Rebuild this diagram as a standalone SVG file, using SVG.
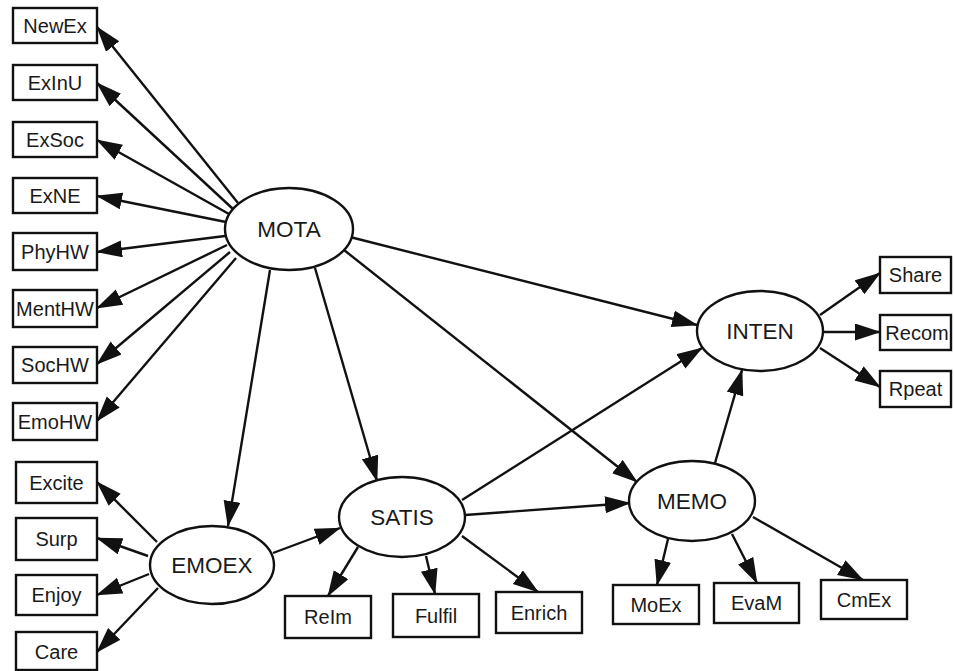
<svg xmlns="http://www.w3.org/2000/svg" width="954" height="671" viewBox="0 0 954 671">
  <style>
    .box { fill: #ffffff; stroke: #111111; stroke-width: 2.4; }
    .lat { fill: #ffffff; stroke: #111111; stroke-width: 2.4; }
    .lbl { font-family: "Liberation Sans", Arial, sans-serif; font-size: 20px; fill: #1a1a1a; text-anchor: middle; dominant-baseline: central; }
    .big { font-size: 22.5px; }
    .edge { stroke: #111111; stroke-width: 2.4; fill: none; marker-end: url(#arrow); }
  </style>
  <defs>
    <marker id="arrow" markerUnits="userSpaceOnUse" markerWidth="28" markerHeight="18" refX="25" refY="8.5" orient="auto">
      <path d="M0,0 L26,8.5 L0,17 Z" fill="#111111"/>
    </marker>
  </defs>
  <rect width="954" height="671" fill="#ffffff"/>

  <!-- connectors -->
  <g id="edges">
    <!-- MOTA indicators -->
    <line class="edge" x1="238" y1="203" x2="97" y2="27"/>
    <line class="edge" x1="233" y1="209" x2="97" y2="83"/>
    <line class="edge" x1="229" y1="214" x2="97" y2="140"/>
    <line class="edge" x1="226" y1="222" x2="97" y2="196"/>
    <line class="edge" x1="225" y1="236" x2="97" y2="252"/>
    <line class="edge" x1="227" y1="245" x2="97" y2="308"/>
    <line class="edge" x1="230" y1="252" x2="97" y2="364"/>
    <line class="edge" x1="236" y1="258" x2="97" y2="421"/>
    <!-- structural paths -->
    <line class="edge" x1="270" y1="270" x2="228" y2="526"/>
    <line class="edge" x1="315" y1="268" x2="377" y2="481"/>
    <line class="edge" x1="344" y1="250" x2="637" y2="482"/>
    <line class="edge" x1="350" y1="237" x2="697" y2="325"/>
    <line class="edge" x1="273" y1="553" x2="340" y2="528"/>
    <line class="edge" x1="462" y1="500" x2="702" y2="348"/>
    <line class="edge" x1="465" y1="515" x2="630" y2="503"/>
    <line class="edge" x1="715" y1="463" x2="742" y2="370"/>
    <!-- EMOEX indicators -->
    <line class="edge" x1="157" y1="542" x2="97" y2="482"/>
    <line class="edge" x1="148" y1="556" x2="97" y2="538"/>
    <line class="edge" x1="149" y1="574" x2="97" y2="595"/>
    <line class="edge" x1="158" y1="588" x2="97" y2="652"/>
    <!-- SATIS indicators -->
    <line class="edge" x1="358" y1="547" x2="328" y2="596"/>
    <line class="edge" x1="426" y1="556" x2="435" y2="594"/>
    <line class="edge" x1="462" y1="536" x2="538" y2="592"/>
    <!-- MEMO indicators -->
    <line class="edge" x1="668" y1="539" x2="657" y2="585"/>
    <line class="edge" x1="732" y1="534" x2="757" y2="583"/>
    <line class="edge" x1="753" y1="517" x2="863" y2="580"/>
    <!-- INTEN indicators -->
    <line class="edge" x1="820" y1="315" x2="880" y2="273"/>
    <line class="edge" x1="824" y1="332" x2="880" y2="332"/>
    <line class="edge" x1="820" y1="348" x2="880" y2="387"/>
  </g>

  <!-- latent variables -->
  <g id="MOTA"><ellipse class="lat" cx="289" cy="229" rx="64" ry="41"/><text class="lbl big" x="289" y="229">MOTA</text></g>
  <g id="EMOEX"><ellipse class="lat" cx="212" cy="565" rx="62" ry="39"/><text class="lbl big" x="212" y="565">EMOEX</text></g>
  <g id="SATIS"><ellipse class="lat" cx="402" cy="517" rx="63" ry="40"/><text class="lbl big" x="402" y="517">SATIS</text></g>
  <g id="MEMO"><ellipse class="lat" cx="692" cy="501" rx="63" ry="40"/><text class="lbl big" x="692" y="501">MEMO</text></g>
  <g id="INTEN"><ellipse class="lat" cx="760" cy="331" rx="63" ry="40"/><text class="lbl big" x="760" y="331">INTEN</text></g>

  <!-- observed indicators: MOTA -->
  <g id="NewEx"><rect class="box" x="13" y="8" width="84" height="35"/><text class="lbl" x="55" y="25.5">NewEx</text></g>
  <g id="ExInU"><rect class="box" x="13" y="65" width="84" height="35"/><text class="lbl" x="55" y="82.5">ExInU</text></g>
  <g id="ExSoc"><rect class="box" x="13" y="122" width="84" height="35"/><text class="lbl" x="55" y="139.5">ExSoc</text></g>
  <g id="ExNE"><rect class="box" x="13" y="178" width="84" height="35"/><text class="lbl" x="55" y="195.5">ExNE</text></g>
  <g id="PhyHW"><rect class="box" x="13" y="233" width="84" height="37"/><text class="lbl" x="55" y="251.5">PhyHW</text></g>
  <g id="MentHW"><rect class="box" x="13" y="290" width="84" height="37"/><text class="lbl" x="55" y="308.5">MentHW</text></g>
  <g id="SocHW"><rect class="box" x="13" y="347" width="84" height="36"/><text class="lbl" x="55" y="365">SocHW</text></g>
  <g id="EmoHW"><rect class="box" x="13" y="403" width="84" height="37"/><text class="lbl" x="55" y="421.5">EmoHW</text></g>

  <!-- observed indicators: EMOEX -->
  <g id="Excite"><rect class="box" x="16" y="462" width="81" height="41"/><text class="lbl" x="56.5" y="482.5">Excite</text></g>
  <g id="Surp"><rect class="box" x="16" y="518" width="81" height="42"/><text class="lbl" x="56.5" y="539">Surp</text></g>
  <g id="Enjoy"><rect class="box" x="16" y="575" width="81" height="40"/><text class="lbl" x="56.5" y="595">Enjoy</text></g>
  <g id="Care"><rect class="box" x="16" y="632" width="81" height="38"/><text class="lbl" x="56.5" y="652">Care</text></g>

  <!-- observed indicators: SATIS -->
  <g id="ReIm"><rect class="box" x="285" y="596" width="86" height="42"/><text class="lbl" x="328" y="617">ReIm</text></g>
  <g id="Fulfil"><rect class="box" x="393" y="594" width="86" height="43"/><text class="lbl" x="436" y="615.5">Fulfil</text></g>
  <g id="Enrich"><rect class="box" x="496" y="592" width="86" height="41"/><text class="lbl" x="539" y="612.5">Enrich</text></g>

  <!-- observed indicators: MEMO -->
  <g id="MoEx"><rect class="box" x="613" y="585" width="86" height="39"/><text class="lbl" x="656" y="604.5">MoEx</text></g>
  <g id="EvaM"><rect class="box" x="714" y="583" width="85" height="40"/><text class="lbl" x="756.5" y="603">EvaM</text></g>
  <g id="CmEx"><rect class="box" x="821" y="580" width="86" height="39"/><text class="lbl" x="864" y="599.5">CmEx</text></g>

  <!-- observed indicators: INTEN -->
  <g id="Share"><rect class="box" x="880" y="257" width="71" height="36"/><text class="lbl" x="915.5" y="275">Share</text></g>
  <g id="Recom"><rect class="box" x="880" y="315" width="71" height="35"/><text class="lbl" x="917" y="332.5">Recom</text></g>
  <g id="Rpeat"><rect class="box" x="880" y="371" width="71" height="36"/><text class="lbl" x="915.5" y="389">Rpeat</text></g>
</svg>
